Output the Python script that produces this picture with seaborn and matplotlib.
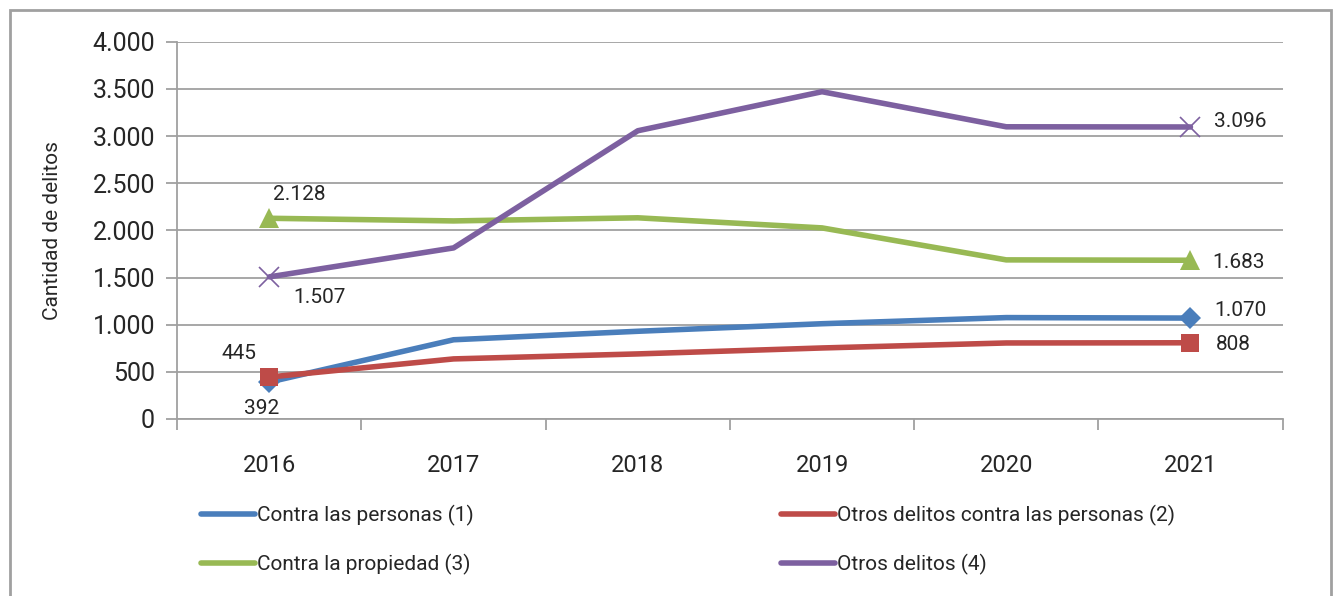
import matplotlib
matplotlib.use("Agg")
import matplotlib.pyplot as plt
import seaborn as sns
import pandas as pd
from matplotlib.patches import Rectangle
from matplotlib.ticker import FuncFormatter

years = ["2016", "2017", "2018", "2019", "2020", "2021"]
contra_personas = [392, 840, 930, 1010, 1075, 1070]
otros_contra_personas = [445, 637, 690, 753, 806, 808]
contra_propiedad = [2128, 2100, 2133, 2026, 1687, 1683]
otros_delitos = [1507, 1814, 3056, 3470, 3098, 3096]

series = [
    ("Contra las personas (1)", contra_personas, "#4a7ebb", "D", 11),
    ("Otros delitos contra las personas (2)", otros_contra_personas, "#be4b48", "s", 13),
    ("Contra la propiedad (3)", contra_propiedad, "#98b954", "^", 14),
    ("Otros delitos (4)", otros_delitos, "#7d60a0", "x", 14),
]

# offsets (pixels) for the first / last data labels of each series
label_offsets = {
    "Contra las personas (1)": [(-8, -26), (50, 8)],
    "Otros delitos contra las personas (2)": [(-30, 24), (43, -2)],
    "Contra la propiedad (3)": [(30, 24), (48, -2)],
    "Otros delitos (4)": [(50, -21), (50, 5)],
}

sns.set_style("white")
plt.rcParams["font.family"] = ["Roboto", "DejaVu Sans"]

fig = plt.figure(figsize=(13.43, 5.96), dpi=100)
ax = fig.add_axes([0.132, 0.297, 0.823, 0.633])

x = list(range(len(years)))
handles = {}
for name, vals, color, marker, ms in series:
    df = pd.DataFrame({"x": x, "y": vals})
    sns.lineplot(data=df, x="x", y="y", ax=ax, color=color, lw=4,
                 marker=marker, markersize=ms, markevery=[0, 5],
                 markeredgecolor=color, markeredgewidth=1.2 if marker == "x" else 0,
                 label=name, legend=False)
    handles[name] = ax.lines[-1]
    for i, off in zip([0, 5], label_offsets[name]):
        v = vals[i]
        txt = f"{v:,}".replace(",", ".")
        ax.annotate(txt, (i, v), xytext=off, textcoords="offset pixels",
                    ha="center", va="center", fontsize=15)

ax.set_xlim(-0.5, 5.5)
ax.set_ylim(0, 4000)
ax.set_yticks(range(0, 4001, 500))
ax.yaxis.set_major_formatter(FuncFormatter(lambda v, p: f"{int(v):,}".replace(",", ".")))
ax.set_xticks(x)
ax.set_xticklabels(years)
ax.set_xticks([i - 0.5 for i in range(7)], minor=True)
ax.grid(axis="y", color="#a0a0a0", lw=1.3)
ax.set_axisbelow(True)
for s in ["top", "right"]:
    ax.spines[s].set_visible(False)
for s in ["left", "bottom"]:
    ax.spines[s].set_color("#a0a0a0")
    ax.spines[s].set_linewidth(1.3)
ax.tick_params(axis="y", which="major", left=True, length=8, color="#a0a0a0",
               width=1.3, labelsize=18, pad=8)
ax.tick_params(axis="x", which="major", bottom=False, labelsize=17, pad=22)
ax.tick_params(axis="x", which="minor", bottom=True, length=8, color="#a0a0a0", width=1.3)
ax.set_xlabel("")
ax.set_ylabel("Cantidad de delitos", fontsize=15, labelpad=22)

order = ["Contra las personas (1)", "Contra la propiedad (3)",
         "Otros delitos contra las personas (2)", "Otros delitos (4)"]
leg_handles = [plt.Line2D([], [], color=handles[n].get_color(), lw=4) for n in order]
fig.legend(leg_handles, order, loc="upper left", bbox_to_anchor=(0.1355, 0.185),
           ncol=2, frameon=False, handlelength=2.6, handletextpad=0.1,
           columnspacing=14.75, labelspacing=1.35, prop={"size": 15})

fig.patches.append(Rectangle((10 / 1343, -0.01), 1321 / 1343, 1 - 10 / 596 + 0.01,
                             transform=fig.transFigure, fill=False,
                             edgecolor="#a0a0a0", lw=2))

fig.savefig("out.png", dpi=100)
